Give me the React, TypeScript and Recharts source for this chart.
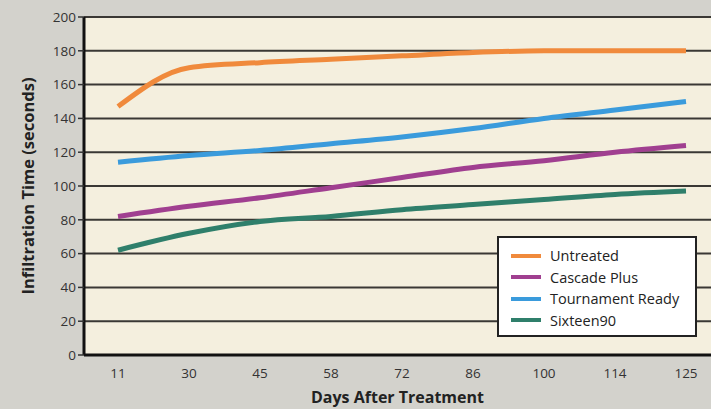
import React from "react";
import {
  LineChart,
  Line,
  XAxis,
  YAxis,
  CartesianGrid,
  Label,
} from "recharts";

// Days after treatment (category axis)
const days = ["11", "30", "45", "58", "72", "86", "100", "114", "125"];

// Infiltration time, seconds
const untreated = [147, 170, 173, 175, 177, 179, 180, 180, 180];
const cascadePlus = [82, 88, 93, 99, 105, 111, 115, 120, 124];
const tournamentReady = [114, 118, 121, 125, 129, 134, 140, 145, 150];
const sixteen90 = [62, 72, 79, 82, 86, 89, 92, 95, 97];

const yTicks = [0, 20, 40, 60, 80, 100, 120, 140, 160, 180, 200];

const series = [
  { key: "untreated", name: "Untreated", color: "#f08a3c" },
  { key: "cascadePlus", name: "Cascade Plus", color: "#a03f90" },
  { key: "tournamentReady", name: "Tournament Ready", color: "#3a9bdc" },
  { key: "sixteen90", name: "Sixteen90", color: "#2f7f6b" },
];

const data = days.map((day, i) => ({
  day,
  untreated: untreated[i],
  cascadePlus: cascadePlus[i],
  tournamentReady: tournamentReady[i],
  sixteen90: sixteen90[i],
}));

const font = "'Open Sans', 'DejaVu Sans', sans-serif";

function LegendBox() {
  return (
    <div
      style={{
        position: "absolute",
        left: 497,
        top: 236,
        width: 200,
        height: 101,
        boxSizing: "border-box",
        background: "#fff",
        border: "2.5px solid #222",
        padding: "7px 0 0 12px",
        fontFamily: font,
        fontSize: 14.5,
        color: "#222",
        lineHeight: "21.5px",
      }}
    >
      {series.map((s) => (
        <div key={s.key} style={{ display: "flex", alignItems: "center" }}>
          <span
            style={{
              display: "inline-block",
              width: 30,
              height: 4,
              background: s.color,
              marginRight: 9,
            }}
          />
          {s.name}
        </div>
      ))}
    </div>
  );
}

export default function App() {
  return (
    <div
      style={{
        position: "absolute",
        left: 0,
        top: 0,
        width: 711,
        height: 409,
        background: "#d3d2cc",
        overflow: "hidden",
      }}
    >
      <LineChart
        width={711}
        height={409}
        data={data}
        margin={{ top: 17, right: 0, bottom: 0, left: 0 }}
      >
        <CartesianGrid
          vertical={false}
          stroke="#3a3834"
          strokeWidth={2}
          fill="#f4efde"
          fillOpacity={1}
        />
        <XAxis
          dataKey="day"
          height={54}
          padding={{ left: 34, right: 25 }}
          axisLine={{ stroke: "#111", strokeWidth: 3 }}
          tickLine={false}
          tick={{ fill: "#333", fontSize: 13.5, fontFamily: font }}
          tickMargin={7}
        >
          <Label
            value="Days After Treatment"
            position="insideBottom"
            offset={6}
            style={{ fill: "#222", fontSize: 16, fontWeight: 700, fontFamily: font }}
          />
        </XAxis>
        <YAxis
          width={84}
          domain={[0, 200]}
          ticks={yTicks}
          interval={0}
          axisLine={{ stroke: "#111", strokeWidth: 3 }}
          tickLine={{ stroke: "#333", strokeWidth: 1.5 }}
          tickSize={6}
          tick={{ fill: "#333", fontSize: 13.5, fontFamily: font }}
        >
          <Label
            value="Infiltration Time (seconds)"
            angle={-90}
            position="insideLeft"
            offset={28}
            style={{
              fill: "#222",
              fontSize: 16.5,
              fontWeight: 700,
              fontFamily: font,
              textAnchor: "middle",
            }}
          />
        </YAxis>
        {series.map((s) => (
          <Line
            key={s.key}
            type="monotone"
            dataKey={s.key}
            name={s.name}
            stroke={s.color}
            strokeWidth={5}
            dot={false}
            activeDot={false}
            isAnimationActive={false}
          />
        ))}
      </LineChart>
      <LegendBox />
    </div>
  );
}
